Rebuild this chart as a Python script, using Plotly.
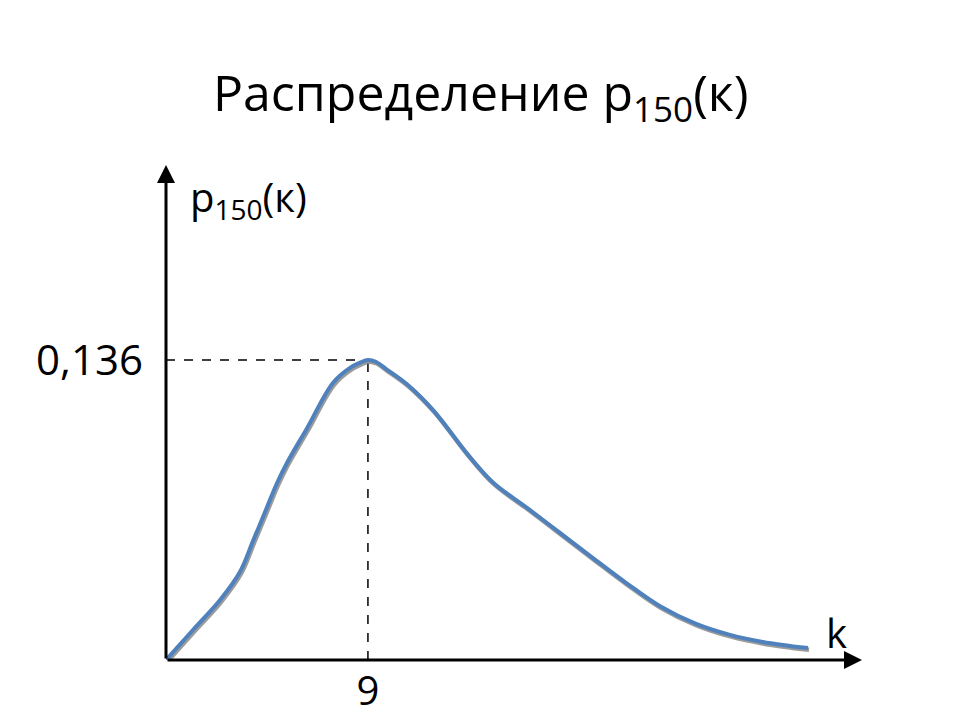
import plotly.graph_objects as go

# Data
k_values = [0, 1.2, 2.41, 3.3, 3.88, 4.5, 4.94, 5.39, 6.28, 7.44, 8.2, 8.65, 9, 9.35, 9.8,
            10.74, 11.9, 13.46, 14.57, 16.09, 17.56, 19.03, 20.5, 22.0, 23.6, 25.1, 26.6, 28.61]
p_values = [0, 0.0136, 0.0272, 0.0400, 0.0540, 0.0692, 0.0800, 0.0893, 0.1050, 0.1256,
            0.1324, 0.1348, 0.136, 0.1352, 0.1320, 0.1250, 0.1133, 0.0930, 0.0805, 0.0690,
            0.0576, 0.0462, 0.0350, 0.0245, 0.0165, 0.0115, 0.0082, 0.0054]
peak_k = 9
peak_p = 0.136
x_tick_labels = ["9"]
y_tick_labels = ["0,136"]
title_text = "Распределение p<sub>150</sub>(к)"
y_label = "p<sub>150</sub>(к)"
x_label = "k"

X_MAX = 31.02
Y_MAX = 0.2244
FONT = "Open Sans"
OFF = 8  # page body margin offset
L, R, T, B = 166 - OFF, 98 + OFF, 165 - OFF, 60 + OFF
PW = 960 - L - R
PH = 720 - T - B

fig = go.Figure()

# shadow of the curve
fig.add_trace(go.Scatter(
    x=[v + 0.05 for v in k_values], y=[v - 0.0008 for v in p_values],
    mode="lines", line=dict(color="rgba(130,130,130,0.8)", width=4.5, shape="spline", smoothing=1.0),
    hoverinfo="skip", showlegend=False))
fig.add_trace(go.Scatter(
    x=k_values, y=p_values, mode="lines",
    line=dict(color="#4F81BD", width=4, shape="spline", smoothing=1.0),
    showlegend=False))

# dashed guide lines
fig.add_shape(type="line", x0=0, y0=peak_p, x1=peak_k, y1=peak_p,
              line=dict(color="black", width=1.5, dash="dash"), layer="below")
fig.add_shape(type="line", x0=peak_k, y0=0, x1=peak_k, y1=peak_p,
              line=dict(color="black", width=1.5, dash="dash"), layer="below")

# axes with arrows
fig.add_annotation(x=X_MAX, y=0, ax=0, ay=0, xref="x", yref="y", axref="x", ayref="y",
                   showarrow=True, arrowhead=2, arrowsize=1.2, arrowwidth=3, arrowcolor="black", text="")
fig.add_annotation(x=0, y=Y_MAX, ax=0, ay=0, xref="x", yref="y", axref="x", ayref="y",
                   showarrow=True, arrowhead=2, arrowsize=1.2, arrowwidth=3, arrowcolor="black", text="")

# labels
fig.add_annotation(x=(480 - OFF - L) / PW, y=1.0 + (T - (95 - OFF)) / PH, xref="paper", yref="paper",
                   text=title_text, showarrow=False, yanchor="middle",
                   font=dict(family=FONT, size=50, color="black"))
fig.add_annotation(x=1.0, y=0.209, xref="x", yref="y", text=y_label, showarrow=False,
                   xanchor="left", font=dict(family=FONT, size=40, color="black"))
fig.add_annotation(x=29.9, y=0.0125, xref="x", yref="y", text=x_label, showarrow=False,
                   font=dict(family=FONT, size=40, color="black"))

fig.update_layout(
    width=960, height=720,
    margin=dict(l=L, r=R, t=T, b=B, autoexpand=False),
    paper_bgcolor="white", plot_bgcolor="white",
    xaxis=dict(range=[0, X_MAX], showgrid=False, zeroline=False, showline=False, automargin=False,
               tickvals=[peak_k], ticktext=x_tick_labels, ticks="", ticklabelstandoff=4,
               tickfont=dict(family=FONT, size=40, color="black")),
    yaxis=dict(range=[0, Y_MAX], showgrid=False, zeroline=False, showline=False, automargin=False,
               tickvals=[peak_p], ticktext=y_tick_labels, ticks="", ticklabelstandoff=22,
               tickfont=dict(family=FONT, size=42, color="black")),
)

fig.write_html("out.html")
